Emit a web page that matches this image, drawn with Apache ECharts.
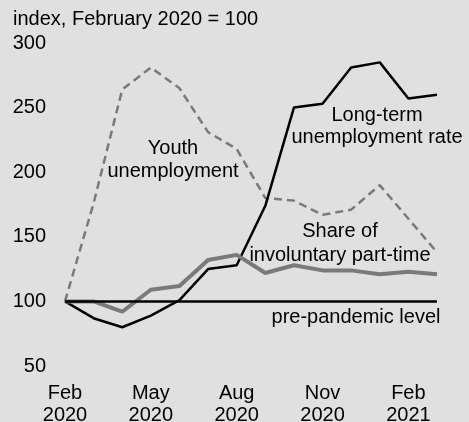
<!DOCTYPE html>
<html>
<head>
<meta charset="utf-8">
<script src="https://cdn.jsdelivr.net/npm/echarts@6/dist/echarts.min.js"></script>
<style>
  html, body { margin: 0; padding: 0; background: #e0e0e0; }
  #chart { width: 469px; height: 422px; }
</style>
</head>
<body>
<div id="chart"></div>
<script>
  // months, Feb 2020 .. Mar 2021
  var months = ['Feb\n2020', 'Mar\n2020', 'Apr\n2020', 'May\n2020', 'Jun\n2020', 'Jul\n2020', 'Aug\n2020',
    'Sep\n2020', 'Oct\n2020', 'Nov\n2020', 'Dec\n2020', 'Jan\n2021', 'Feb\n2021', 'Mar\n2021'];
  var longTerm = [100, 87, 80, 89, 101, 125, 128, 174, 250, 253, 281, 285, 257, 260];
  var youth = [100, 176, 264, 281, 265, 231, 218, 180, 178, 167, 171, 190, 164, 138];
  var partTime = [100, 100, 92, 109, 112, 132, 136, 122, 128, 124, 124, 121, 123, 121];
  var baseline = 100;
  var yTicks = { min: 50, max: 300, step: 50 };

  var chart = echarts.init(document.getElementById('chart'));
  var font = 'Liberation Sans, Arial, sans-serif';

  chart.setOption({
    backgroundColor: '#e0e0e0',
    animation: false,
    textStyle: { fontFamily: font },
    grid: { left: 65, right: 32, top: 43, bottom: 56, outerBoundsMode: 'none' },
    xAxis: {
      type: 'category',
      data: months,
      boundaryGap: false,
      axisLine: { show: false },
      axisTick: { show: false },
      splitLine: { show: false },
      axisLabel: {
        interval: 2,
        margin: 16,
        fontSize: 20,
        lineHeight: 22,
        color: '#000',
        fontFamily: font
      }
    },
    yAxis: {
      type: 'value',
      min: yTicks.min,
      max: yTicks.max,
      interval: yTicks.step,
      axisLine: { show: false },
      axisTick: { show: false },
      splitLine: { show: false },
      axisLabel: { margin: 19, fontSize: 20, color: '#000', fontFamily: font }
    },
    graphic: [
      { type: 'text', left: 13, top: 9, style: { text: 'index, February 2020 = 100', fontSize: 20, fill: '#000', fontFamily: font } },
      { type: 'text', x: 173, y: 160, style: { text: 'Youth\nunemployment', fontSize: 20, lineHeight: 23, fill: '#000', align: 'center', verticalAlign: 'middle', fontFamily: font } },
      { type: 'text', x: 377, y: 126, style: { text: 'Long-term\nunemployment rate', fontSize: 20, lineHeight: 22, fill: '#000', align: 'center', verticalAlign: 'middle', fontFamily: font } },
      { type: 'text', x: 340, y: 243, style: { text: 'Share of\ninvoluntary part-time', fontSize: 20, lineHeight: 24, fill: '#000', align: 'center', verticalAlign: 'middle', fontFamily: font } },
      { type: 'text', x: 356, y: 317, style: { text: 'pre-pandemic level', fontSize: 20, fill: '#000', align: 'center', verticalAlign: 'middle', fontFamily: font } }
    ],
    series: [
      {
        name: 'Youth unemployment',
        type: 'line',
        data: youth,
        symbol: 'none',
        lineStyle: { color: '#7a7a7a', width: 2.5, type: [8, 5] },
        z: 2
      },
      {
        name: 'Long-term unemployment rate',
        type: 'line',
        data: longTerm,
        symbol: 'none',
        lineStyle: { color: '#000', width: 2.5 },
        markLine: {
          silent: true,
          symbol: 'none',
          label: { show: false },
          lineStyle: { color: '#000', width: 2.5, type: 'solid' },
          data: [{ yAxis: baseline }]
        },
        z: 3
      },
      {
        name: 'Share of involuntary part-time',
        type: 'line',
        data: partTime,
        symbol: 'none',
        lineStyle: { color: '#7a7a7a', width: 4 },
        z: 4
      }
    ]
  });
</script>
</body>
</html>
